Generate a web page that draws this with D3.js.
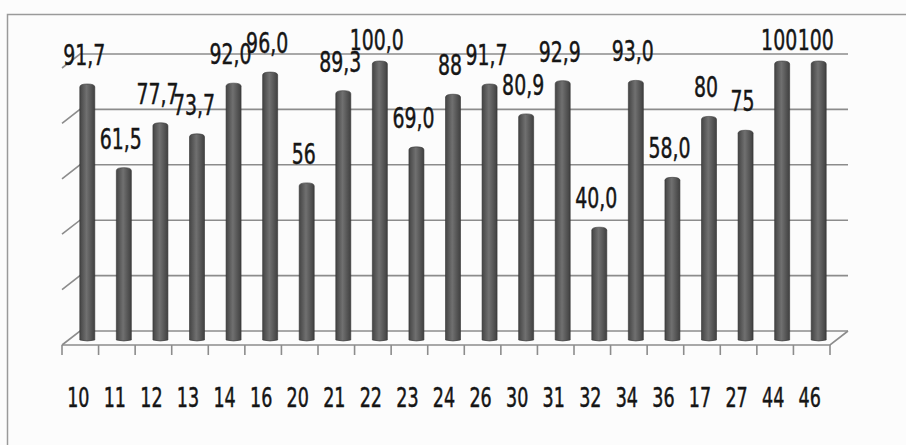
<!DOCTYPE html>
<html>
<head>
<meta charset="utf-8">
<script src="https://cdn.jsdelivr.net/npm/d3@7"></script>
<style>
  body { margin: 0; background: #fcfcfc; }
  svg { display: block; }
</style>
</head>
<body>
<div class="container"></div>
<script>
// chart values
var categories = ["10", "11", "12", "13", "14", "16", "20", "21", "22", "23", "24",
                  "26", "30", "31", "32", "34", "36", "17", "27", "44", "46"];
var values = [91.7, 61.5, 77.7, 73.7, 92.0, 96.0, 56, 89.3, 100.0, 69.0, 88,
              91.7, 80.9, 92.9, 40.0, 93.0, 58.0, 80, 75, 100, 100];
var valueLabels = ["91,7", "61,5", "77,7", "73,7", "92,0", "96,0", "56", "89,3", "100,0", "69,0", "88",
                   "91,7", "80,9", "92,9", "40,0", "93,0", "58,0", "80", "75", "100", "100"];
var gridTicks = [0, 20, 40, 60, 80, 100];

var svgWidth = 906;
var svgHeight = 445;

// front face of the floor, the back wall sits depth.x right and depth.y up
var chartMargin = { left: 62, right: 58, top: 68, bottom: 100 };
var depth = { x: 18, y: 14 };
var chartWidth = svgWidth - chartMargin.left - chartMargin.right - depth.x;
var chartHeight = svgHeight - chartMargin.top - chartMargin.bottom;

var fontFam = "'DejaVu Sans Condensed', 'Liberation Sans Narrow', sans-serif";

var svg = d3.select(".container")
    .append("svg")
    .attr("width", svgWidth)
    .attr("height", svgHeight);

// bar gradient, cylinder look
var grad = svg.append("defs").append("linearGradient")
    .attr("id", "barGrad")
    .attr("x1", "0%").attr("x2", "100%");
grad.append("stop").attr("offset", "0%").attr("stop-color", "#444");
grad.append("stop").attr("offset", "45%").attr("stop-color", "#707070");
grad.append("stop").attr("offset", "100%").attr("stop-color", "#404040");

// outer frame (only top and left show in the scan)
svg.append("path")
    .attr("d", "M7.5," + svgHeight + " V14.5 H" + svgWidth)
    .attr("fill", "none")
    .attr("stroke", "#9a9a9a")
    .attr("stroke-width", 1.5);

var chartGroup = svg.append("g")
    .attr("transform", `translate(${chartMargin.left}, ${chartMargin.top})`);

var xBandScale = d3.scaleBand()
    .domain(categories)
    .range([0, chartWidth]);

var yLinearScale = d3.scaleLinear()
    .domain([0, 100])
    .range([chartHeight, 0]);

// back wall gridlines with the slanted side wall stub
var grid = chartGroup.append("g").attr("class", "grid");
gridTicks.forEach(function (t) {
    var yb = yLinearScale(t) - depth.y;
    grid.append("path")
        .attr("d", "M0," + (yb + depth.y) + " L" + depth.x + "," + yb + " H" + (chartWidth + depth.x))
        .attr("fill", "none")
        .attr("stroke", "#8c8c8c")
        .attr("stroke-width", 1.6);
});

// floor front edge and right side
grid.append("path")
    .attr("d", "M0," + chartHeight + " H" + chartWidth +
               " L" + (chartWidth + depth.x) + "," + (chartHeight - depth.y))
    .attr("fill", "none")
    .attr("stroke", "#8c8c8c")
    .attr("stroke-width", 1.6);

// x axis ticks on the front floor edge
var bottomAxis = d3.axisBottom(xBandScale).tickSize(0).tickFormat("");
var axisG = chartGroup.append("g")
    .attr("transform", `translate(0, ${chartHeight})`)
    .call(bottomAxis);
axisG.select(".domain").remove();

var tickX = categories.map(function (c) { return xBandScale(c); }).concat([chartWidth]);
axisG.selectAll(".tk")
    .data(tickX)
    .enter()
    .append("line")
    .attr("x1", function (d) { return d; })
    .attr("x2", function (d) { return d; })
    .attr("y1", 0)
    .attr("y2", 10)
    .attr("stroke", "#8c8c8c")
    .attr("stroke-width", 1.6);

// category labels, stretched a bit like the scan
chartGroup.selectAll(".xlab")
    .data(categories)
    .enter()
    .append("text")
    .attr("class", "xlab")
    .attr("transform", function (d) {
        return `translate(${xBandScale(d) + xBandScale.bandwidth() / 2 - 2}, ${chartHeight + 62}) scale(1, 1.33)`;
    })
    .attr("text-anchor", "middle")
    .attr("font-family", fontFam)
    .attr("font-size", "19.5px")
    .attr("fill", "#151515")
    .attr("stroke", "#151515")
    .attr("stroke-width", 0.35)
    .text(function (d) { return d; });

// bars stand half way into the depth
var barWidth = 15;
var midX = depth.x / 2, midY = depth.y / 2;
var data = categories.map(function (c, i) { return { cat: c, value: values[i], label: valueLabels[i] }; });

var barX = function (d) { return xBandScale(d.cat) + xBandScale.bandwidth() / 2 + midX - barWidth / 2 - 2; };
var barTop = function (d) { return yLinearScale(d.value) - midY; };

chartGroup.selectAll(".bar")
    .data(data)
    .enter()
    .append("path")
    .attr("class", "bar")
    .attr("d", function (d) {
        var x = barX(d), y = barTop(d), b = chartHeight - midY + 2;
        return "M" + x + "," + b + " V" + (y + 3) +
            " Q" + x + "," + y + " " + (x + barWidth / 2) + "," + y +
            " Q" + (x + barWidth) + "," + y + " " + (x + barWidth) + "," + (y + 3) +
            " V" + b + " Q" + (x + barWidth / 2) + "," + (b + 2) + " " + x + "," + b + "Z";
    })
    .attr("fill", "url(#barGrad)")
    .attr("stroke", "#333")
    .attr("stroke-width", 0.6);

// value labels, pushed down under the top border when they would hit it
chartGroup.selectAll(".vlab")
    .data(data)
    .enter()
    .append("text")
    .attr("class", "vlab")
    .attr("transform", function (d) {
        var x = barX(d) + barWidth / 2 - 3;
        var y = Math.max(barTop(d) - 19, 50 - chartMargin.top);
        return `translate(${x}, ${y}) scale(1, 1.35)`;
    })
    .attr("text-anchor", "middle")
    .attr("font-family", fontFam)
    .attr("font-size", "21px")
    .attr("fill", "#151515")
    .attr("stroke", "#151515")
    .attr("stroke-width", 0.35)
    .text(function (d) { return d.label; });
</script>
</body>
</html>
